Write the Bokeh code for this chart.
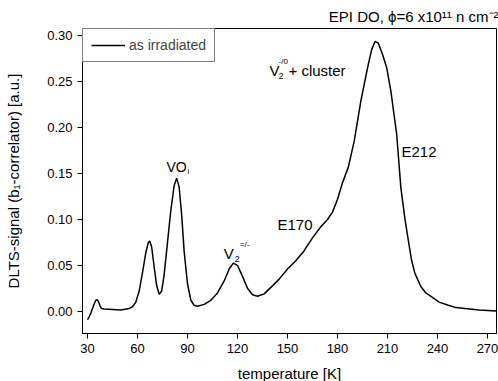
from bokeh.plotting import figure
from bokeh.models import Label, FixedTicker, NumeralTickFormatter, Range1d, Legend, LegendItem
from bokeh.embed import file_html
from bokeh.resources import INLINE

# ---- data ----
temperature = [30, 31, 32, 33, 34, 35, 35.8, 36.5, 37.5, 38.5, 40, 45, 50, 55, 57, 59, 61, 63, 65,
               66.5, 67.3, 68.5, 70, 71.5, 73, 74.5, 76, 78, 80, 82, 83.5, 85, 86.5, 88, 90, 92,
               94, 96, 100, 104, 108, 112, 115, 117.5, 120, 123, 126, 129, 132, 136, 140, 145,
               150, 155, 160, 165, 170, 174, 177, 180, 183, 186.5, 190, 194, 198, 200.5, 202.5,
               204.5, 207, 209.5, 212, 215.5, 218, 220.5, 222.5, 224.5, 226.5, 230, 233, 236.5,
               241, 246.5, 251, 256.5, 265, 275.5]
signal = [-0.009, -0.006, -0.002, 0.003, 0.008, 0.012, 0.0127, 0.011, 0.006, 0.003, 0.0025, 0.002,
          0.0015, 0.003, 0.005, 0.010, 0.022, 0.042, 0.064, 0.075, 0.0765, 0.070, 0.048, 0.028,
          0.0185, 0.022, 0.040, 0.075, 0.110, 0.137, 0.145, 0.135, 0.105, 0.065, 0.030, 0.012,
          0.0065, 0.0055, 0.0075, 0.012, 0.020, 0.033, 0.046, 0.0525, 0.050, 0.038, 0.025, 0.018,
          0.0163, 0.019, 0.026, 0.035, 0.046, 0.055, 0.066, 0.080, 0.092, 0.100, 0.108, 0.122,
          0.140, 0.157, 0.185, 0.229, 0.265, 0.285, 0.2938, 0.292, 0.280, 0.2655, 0.240, 0.193,
          0.135, 0.100, 0.0772, 0.055, 0.041, 0.027, 0.020, 0.0156, 0.010, 0.0065, 0.004, 0.0029,
          0.0015, 0.0003]
x_ticks = [30, 60, 90, 120, 150, 180, 210, 240, 270]
y_ticks = [0.00, 0.05, 0.10, 0.15, 0.20, 0.25, 0.30]
series_name = "as irradiated"
title_text = "EPI DO, \u03d5=6 x10\u00b9\u00b9 n cm\u207b\u00b2"

FONT = "Liberation Sans"

p = figure(frame_width=414, frame_height=305, output_backend="svg", toolbar_location=None,
           x_range=Range1d(27, 275.4), y_range=Range1d(-0.0242, 0.308),
           min_border_left=82, min_border_right=2, min_border_top=28, min_border_bottom=48,
           background_fill_color="white", border_fill_color="white")
p.outline_line_color = "black"
p.outline_line_width = 1
p.xgrid.visible = False
p.ygrid.visible = False

p.title.text = title_text
p.title.align = "right"
p.title.text_font = FONT
p.title.text_font_size = "15px"
p.title.text_font_style = "normal"
p.title.text_color = "black"
p.title.standoff = 8
p.title.offset = -2

r = p.line(temperature, signal, line_color="black", line_width=1.5)

for ax in (p.xaxis[0], p.yaxis[0]):
    ax.major_tick_out = 5
    ax.major_tick_in = 0
    ax.minor_tick_out = 0
    ax.minor_tick_in = 0
    ax.axis_line_color = "black"
    ax.major_tick_line_color = "black"
    ax.major_label_text_font = FONT
    ax.major_label_text_font_size = "13px"
    ax.major_label_text_color = "black"
    ax.axis_label_text_font = FONT
    ax.axis_label_text_font_size = "15px"
    ax.axis_label_text_font_style = "normal"
    ax.axis_label_text_color = "black"
    ax.major_label_standoff = 5

p.xaxis.ticker = FixedTicker(ticks=x_ticks)
p.yaxis.ticker = FixedTicker(ticks=y_ticks)
p.yaxis.formatter = NumeralTickFormatter(format="0.00")
p.xaxis.axis_label = "temperature [K]"
p.yaxis.axis_label = "DLTS-signal (b\u2081-correlator) [a.u.]"
p.xaxis.axis_label_standoff = 9
p.yaxis.axis_label_standoff = 22

legend = Legend(items=[LegendItem(label=series_name, renderers=[r])], location="top_left",
                margin=0, padding=8, spacing=0, glyph_width=34, glyph_height=16,
                label_standoff=4, label_text_font=FONT, label_text_font_size="14px",
                border_line_color="black", border_line_width=1, background_fill_alpha=1)
p.add_layout(legend)


def lab(x, y, text, size, dx=0, dy=0):
    p.add_layout(Label(x=x, y=y, text=text, x_offset=dx, y_offset=dy, text_font=FONT,
                       text_font_size=size, text_color="black", text_baseline="alphabetic",
                       text_align="left"))


# annotations
lab(77.4, 0.1568, "VO", "14px")
lab(77.4, 0.1568, "i", "8px", dx=21, dy=-4)

lab(111.8, 0.0627, "V", "15px")
lab(111.8, 0.0627, "2", "9px", dx=11, dy=-5)
lab(111.8, 0.0627, "=/-", "8px", dx=16, dy=9)

lab(139.2, 0.262, "V", "15px")
lab(139.2, 0.262, "2", "9px", dx=9, dy=-5)
lab(139.2, 0.262, "-/0", "8px", dx=9, dy=9)
lab(139.2, 0.262, "+ cluster", "15px", dx=19)

lab(144.0, 0.0942, "E170", "15px")
lab(218.4, 0.1742, "E212", "15px")

open("out.html", "w").write(file_html(p, INLINE))
